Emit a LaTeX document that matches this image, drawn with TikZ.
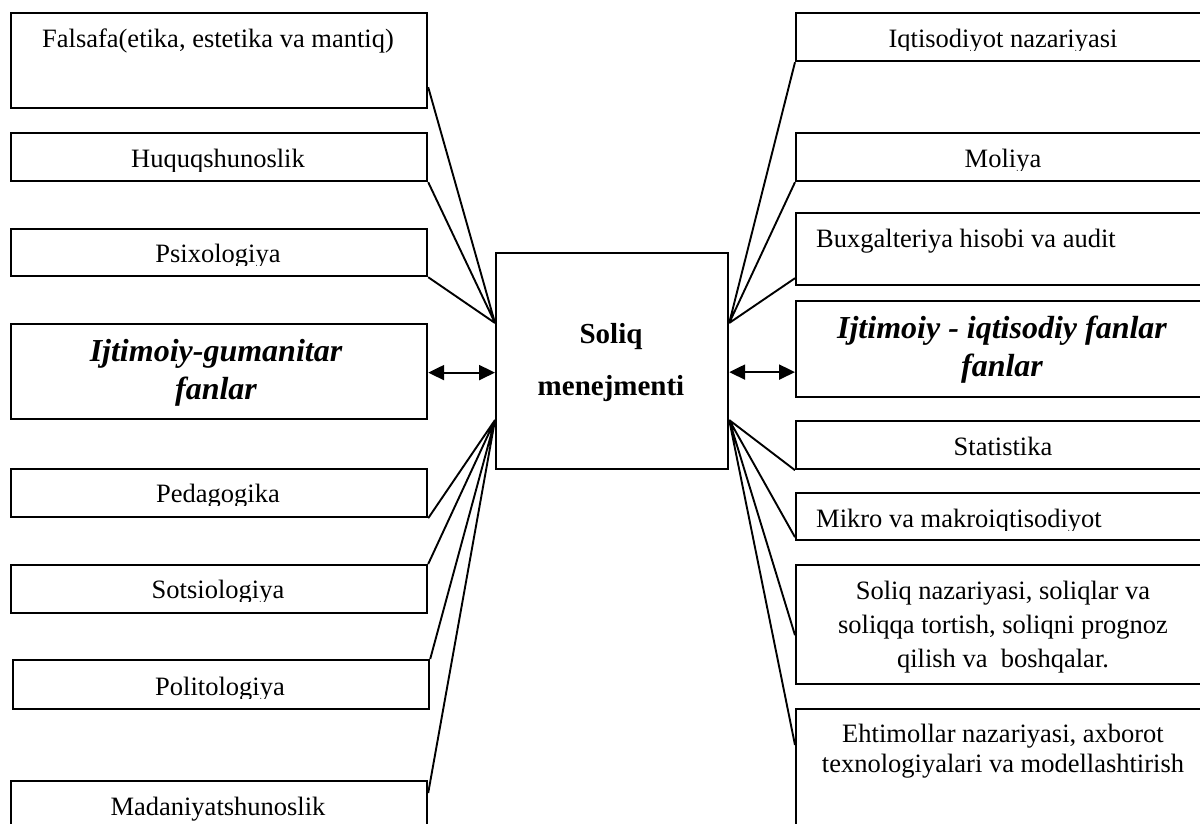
\documentclass[tikz,border=0pt]{standalone}
\usepackage{fontspec}
\setmainfont{Liberation Serif}
\usetikzlibrary{arrows.meta}

\begin{document}
\begin{tikzpicture}[x=1pt,y=-1pt]
 	\def \lx{10}
 	\def \rx{795}
 	\tikzstyle{box}=[rectangle,draw=black,line width=2.2pt,inner sep=0pt,minimum width=416pt,anchor=north west]
 	\tikzstyle{lbl}=[font=\fontsize{26.5pt}{34pt}\selectfont,inner sep=0pt,anchor=base]
 	\tikzstyle{big}=[font=\fontsize{32pt}{38pt}\selectfont\bfseries\itshape,inner sep=0pt,align=center,anchor=base]
 	\tikzstyle{link}=[draw=black,line width=1.9pt]
 	\tikzstyle{both}=[draw=black,line width=2.2pt,{Triangle[length=16pt,width=15pt]}-{Triangle[length=16pt,width=15pt]}]

 	\useasboundingbox (0,0) rectangle (1200,823);
 	\clip (0,0) rectangle (1200,823);

 	% left column
 	\node[box,minimum height=95pt] (falsafa)   at (\lx,12)  {};
 	\node[box,minimum height=48pt] (huquq)     at (\lx,132) {};
 	\node[box,minimum height=47pt] (psix)      at (\lx,228) {};
 	\node[box,minimum height=95pt] (gumanitar) at (\lx,323) {};
 	\node[box,minimum height=48pt] (pedag)     at (\lx,468) {};
 	\node[box,minimum height=48pt] (sotsio)    at (\lx,564) {};
 	\node[box,minimum height=49pt] (polit)     at (12,659)  {};
 	\node[box,minimum height=70pt] (madan)     at (\lx,780) {};

 	% centre
 	\node[box,minimum width=232pt,minimum height=216pt] (soliq) at (495,252) {};
 	\node[font=\fontsize{29pt}{52pt}\selectfont\bfseries,align=center,inner sep=0pt,anchor=base]
 		(soliq-txt) at (611,395) {Soliq\\menejmenti};

 	% right column
 	\node[box,minimum height=48pt]  (iqtis)     at (\rx,12)  {};
 	\node[box,minimum height=48pt]  (moliya)    at (\rx,132) {};
 	\node[box,minimum height=72pt]  (buxg)      at (\rx,212) {};
 	\node[box,minimum height=96pt]  (iqtisodiy) at (\rx,300) {};
 	\node[box,minimum height=48pt]  (stat)      at (\rx,420) {};
 	\node[box,minimum height=47pt]  (mikro)     at (\rx,492) {};
 	\node[box,minimum height=119pt] (soliqnaz)  at (\rx,564) {};
 	\node[box,minimum height=130pt] (ehtim)     at (\rx,708) {};

 	% meeting points on the centre box
 	\coordinate (hubLup) at ([yshift=-71pt]soliq.north west);
 	\coordinate (hubLdn) at ([yshift=-168pt]soliq.north west);
 	\coordinate (hubRup) at ([yshift=-71pt]soliq.north east);
 	\coordinate (hubRdn) at ([yshift=-168pt]soliq.north east);

 	\path[link] ([yshift=22pt]falsafa.south east) -- (hubLup)
 		(huquq.south east) -- (hubLup)
 		(psix.south east) -- (hubLup)
 		(pedag.south east) -- (hubLdn)
 		(sotsio.north east) -- (hubLdn)
 		(polit.north east) -- (hubLdn)
 		([yshift=-13pt]madan.north east) -- (hubLdn);
 	\path[link] (iqtis.south west) -- (hubRup)
 		(moliya.south west) -- (hubRup)
 		([yshift=8pt]buxg.south west) -- (hubRup)
 		(stat.south west) -- (hubRdn)
 		([yshift=4pt]mikro.south west) -- (hubRdn)
 		([yshift=50pt]soliqnaz.south west) -- (hubRdn)
 		([yshift=-37pt]ehtim.north west) -- (hubRdn);

 	\draw[both] ([yshift=-1pt]gumanitar.east) -- ([yshift=-1pt]gumanitar.east -| soliq.west);
 	\draw[both] ([yshift=-23pt]iqtisodiy.west) -- ([yshift=-23pt]iqtisodiy.west -| soliq.east);

 	% labels, left
 	\node[lbl] (falsafa-txt) at (218,47) {Falsafa(etika, estetika va mantiq)};
 	\begin{scope}
 		\clip (huquq.north west) rectangle ([yshift=11pt]huquq.south east);
 		\node[lbl] (huquq-txt) at (218,167) {Huquqshunoslik};
 	\end{scope}
 	\begin{scope}
 		\clip (psix.north west) rectangle ([yshift=12pt]psix.south east);
 		\node[lbl] (psix-txt) at (218,262) {Psixologiya};
 	\end{scope}
 	\node[big] (gumanitar-txt) at (216,399) {Ijtimoiy-gumanitar\\fanlar};
 	\begin{scope}
 		\clip (pedag.north west) rectangle ([yshift=13pt]pedag.south east);
 		\node[lbl] (pedag-txt) at (218,502) {Pedagogika};
 	\end{scope}
 	\begin{scope}
 		\clip (sotsio.north west) rectangle ([yshift=13pt]sotsio.south east);
 		\node[lbl] (sotsio-txt) at (218,598) {Sotsiologiya};
 	\end{scope}
 	\begin{scope}
 		\clip (polit.north west) rectangle ([yshift=12pt]polit.south east);
 		\node[lbl] (polit-txt) at (220,695) {Politologiya};
 	\end{scope}
 	\node[lbl] (madan-txt) at (218,815) {Madaniyatshunoslik};

 	% labels, right
 	\begin{scope}
 		\clip (iqtis.north west) rectangle ([yshift=12pt]iqtis.south east);
 		\node[lbl] (iqtis-txt) at (1003,47) {Iqtisodiyot nazariyasi};
 	\end{scope}
 	\begin{scope}
 		\clip (moliya.north west) rectangle ([yshift=12pt]moliya.south east);
 		\node[lbl] (moliya-txt) at (1003,167) {Moliya};
 	\end{scope}
 	\node[lbl,anchor=base west] (buxg-txt) at (816,247) {Buxgalteriya hisobi va audit};
 	\node[big] (iqtisodiy-txt) at (1002,376) {Ijtimoiy - iqtisodiy fanlar\\fanlar};
 	\node[lbl] (stat-txt) at (1003,455) {Statistika};
 	\begin{scope}
 		\clip (mikro.north west) rectangle ([yshift=11pt]mikro.south east);
 		\node[lbl,anchor=base west] (mikro-txt) at (816,527) {Mikro va makroiqtisodiyot};
 	\end{scope}
 	\node[lbl,align=center] (soliqnaz-txt) at (1003,667)
 		{Soliq nazariyasi, soliqlar va\\soliqqa tortish, soliqni prognoz\\qilish va~ boshqalar.};
 	\node[lbl,align=center,font=\fontsize{26.5pt}{29.5pt}\selectfont] (ehtim-txt) at (1003,772)
 		{Ehtimollar nazariyasi, axborot\\texnologiyalari va modellashtirish};
\end{tikzpicture}
\end{document}
